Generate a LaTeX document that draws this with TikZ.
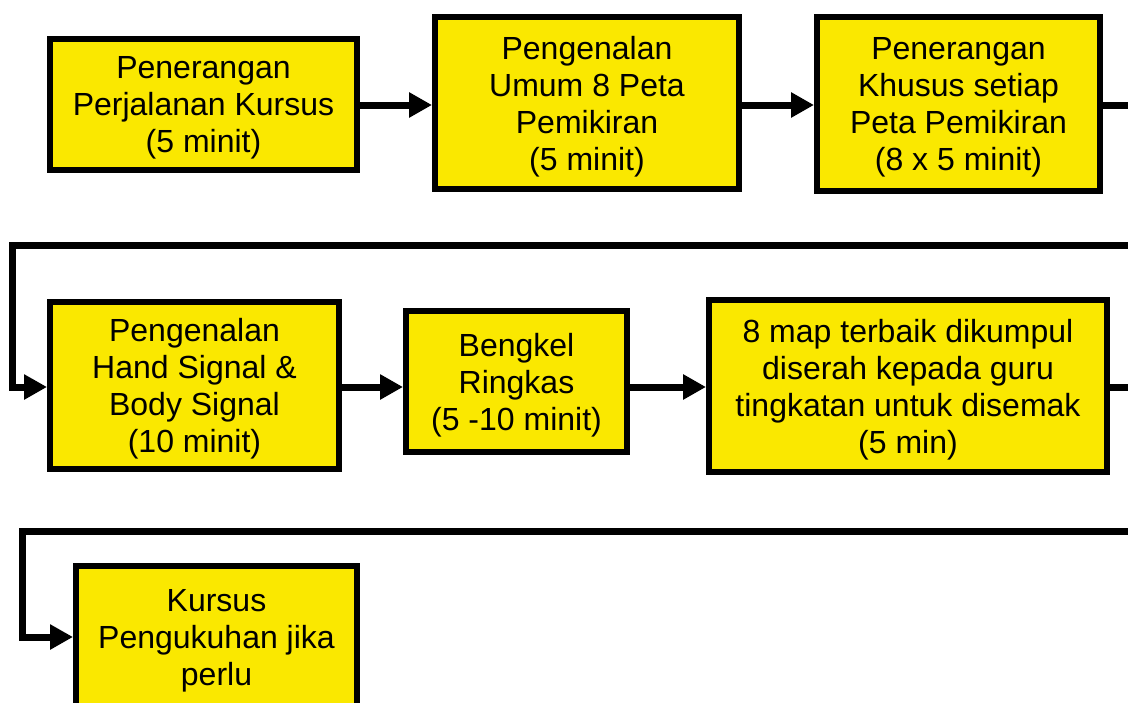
\documentclass[tikz,border=0pt]{standalone}
\usepackage{fontspec}
\setmainfont{Liberation Sans}
\usetikzlibrary{arrows.meta}
\definecolor{boxyellow}{RGB}{250,232,0}
\begin{document}
\begin{tikzpicture}[x=1pt,y=-1pt,
  box/.style={draw=black, line width=6pt, fill=boxyellow, inner sep=0pt},
  txt/.style={inner sep=0pt, align=center, font=\fontsize{32}{37}\selectfont},
  conn/.style={line width=7pt, draw=black, line join=miter, -{Triangle[length=23pt,width=24pt]}}]
\useasboundingbox (0,0) rectangle (1128,702);
\clip (0,0) rectangle (1128,702);
\node[box, minimum width=307pt, minimum height=131pt] (b1) at (203.5,104.5) {};
\node[box, minimum width=304pt, minimum height=172pt] (b2) at (587,103) {};
\node[box, minimum width=283pt, minimum height=174pt] (b3) at (958.5,104) {};
\node[box, minimum width=289pt, minimum height=167pt] (b4) at (194.5,385) {};
\node[box, minimum width=221pt, minimum height=141pt] (b5) at (516.5,381.5) {};
\node[box, minimum width=398pt, minimum height=172pt] (b6) at (908,386) {};
\node[box, minimum width=281pt, minimum height=142pt] (b7) at (216.5,637) {};
\node[txt] (t1) at ([yshift=-3.5pt]b1.center) {Penerangan\\Perjalanan Kursus\\(5 minit)};
\node[txt] (t2) at ([yshift=-3.5pt]b2.center) {Pengenalan\\Umum 8 Peta\\Pemikiran\\(5 minit)};
\node[txt] (t3) at ([yshift=-3.5pt]b3.center) {Penerangan\\Khusus setiap\\Peta Pemikiran\\(8 x 5 minit)};
\node[txt] (t4) at ([yshift=-3.5pt]b4.center) {Pengenalan\\Hand Signal \&\\Body Signal\\(10 minit)};
\node[txt] (t5) at ([yshift=-3.5pt]b5.center) {Bengkel\\Ringkas\\(5 -10 minit)};
\node[txt] (t6) at ([yshift=-3.5pt]b6.center) {8 map terbaik dikumpul\\diserah kepada guru\\tingkatan untuk disemak\\(5 min)};
\node[txt] (t7) at ([yshift=-3.5pt]b7.center) {Kursus\\Pengukuhan jika\\perlu};
\coordinate (r1) at (1145,105);
\coordinate (r1b) at (1145,245);
\coordinate (l1) at (12,245);
\coordinate (r2) at (1145,387);
\coordinate (r2b) at (1145,531);
\coordinate (l2) at (22,531);
\draw[conn] (b1.east |- r1) -- (b2.west |- r1);
\draw[conn] (b2.east |- r1) -- (b3.west |- r1);
\draw[conn] (b3.east |- r1) -- (r1) -- (r1b) -- (l1) |- (b4.west |- r2);
\draw[conn] (b4.east |- r2) -- (b5.west |- r2);
\draw[conn] (b5.east |- r2) -- (b6.west |- r2);
\draw[conn] (b6.east |- r2) -- (r2) -- (r2b) -- (l2) |- (b7.west);
\end{tikzpicture}
\end{document}
